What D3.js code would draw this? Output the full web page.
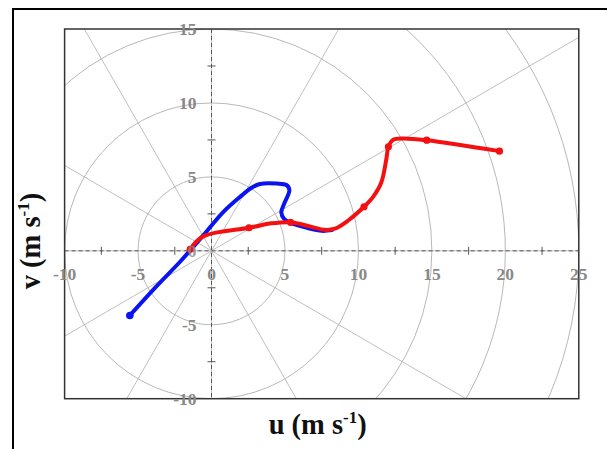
<!DOCTYPE html>
<html>
<head>
<meta charset="utf-8">
<script src="https://cdn.jsdelivr.net/npm/d3@7/dist/d3.min.js"></script>
<style>
  html, body { margin: 0; padding: 0; background: #fff; }
  svg { display: block; }
</style>
</head>
<body>
<svg id="chart" width="607" height="449"></svg>
<script>
// Hodograph: wind components u, v (m s^-1)
const uTicks = [-10, -5, 0, 5, 10, 15, 20, 25];
const vTicks = [-10, -5, 0, 5, 10, 15];
const minorStep = 2.5;
const ringRadii = [5, 10, 15, 20, 25];
const spokeAngles = [0, 30, 60, 90, 120, 150, 180, 210, 240, 270, 300, 330];

// red trace (u, v)
const redU = [-1.45, -1.1, -0.7, -0.3, 0.6, 2.55, 4.1, 5.38, 6.8, 7.7, 8.4, 9.3, 10.38, 11.0, 11.55, 11.9, 12.04, 12.35, 13.0, 14.65, 19.6];
const redV = [0.1, 0.55, 0.9, 1.08, 1.28, 1.56, 1.86, 1.93, 1.62, 1.42, 1.5, 2.05, 2.98, 3.65, 4.6, 6.2, 7.03, 7.5, 7.6, 7.48, 6.74];
const redMarkU = [-1.45, 2.55, 5.38, 10.38, 12.04, 14.65, 19.6];
const redMarkV = [0.1, 1.56, 1.93, 2.98, 7.03, 7.48, 6.74];

// blue trace (u, v)
const blueU = [-5.56, -3.8, -2.14, -1.3, -0.55, 0.81, 2.0, 2.7, 3.3, 4.44, 5.1, 5.3, 4.95, 4.75, 4.95, 5.4, 6.5, 7.5, 8.2];
const blueV = [-4.37, -2.45, -0.74, 0.2, 1.06, 2.64, 3.7, 4.25, 4.52, 4.55, 4.45, 4.1, 3.2, 2.6, 2.15, 1.88, 1.55, 1.35, 1.4];
const blueMarkU = [-5.56];
const blueMarkV = [-4.37];

const svg = d3.select("#chart");

const x = d3.scaleLinear().domain([-10, 25]).range([64.6, 578.8]);
const y = d3.scaleLinear().domain([-10, 15]).range([398.7, 29]);

const [x0, x1] = x.range();
const [y0, y1] = y.range();

// outer frame
svg.append("rect")
  .attr("x", 13).attr("y", 9)
  .attr("width", 620).attr("height", 460)
  .attr("fill", "none").attr("stroke", "#000").attr("stroke-width", 2);

svg.append("clipPath").attr("id", "plotClip")
  .append("rect")
  .attr("x", x0).attr("y", y1)
  .attr("width", x1 - x0).attr("height", y0 - y1);

const grid = svg.append("g").attr("clip-path", "url(#plotClip)");

// rings of constant speed
grid.selectAll("ellipse.ring").data(ringRadii).join("ellipse")
  .attr("class", "ring")
  .attr("cx", x(0)).attr("cy", y(0))
  .attr("rx", r => x(r) - x(0))
  .attr("ry", r => y(0) - y(r))
  .attr("fill", "none").attr("stroke", "#b0b0b0").attr("stroke-width", 0.9);

// spokes every 30 degrees
const spokeLen = 40;
grid.selectAll("line.spoke").data(spokeAngles).join("line")
  .attr("class", "spoke")
  .attr("x1", x(0)).attr("y1", y(0))
  .attr("x2", a => x(spokeLen * Math.cos(a * Math.PI / 180)))
  .attr("y2", a => y(spokeLen * Math.sin(a * Math.PI / 180)))
  .attr("stroke", "#b8b8b8").attr("stroke-width", 0.9);

// dashed centre axes
grid.append("line")
  .attr("x1", x0).attr("x2", x1).attr("y1", y(0)).attr("y2", y(0))
  .attr("stroke", "#555").attr("stroke-width", 1).attr("stroke-dasharray", "4,3");
grid.append("line")
  .attr("x1", x(0)).attr("x2", x(0)).attr("y1", y1).attr("y2", y0)
  .attr("stroke", "#555").attr("stroke-width", 1).attr("stroke-dasharray", "4,3");

// minor ticks on the centre axes
const uMinor = d3.range(-10 + minorStep, 25, minorStep * 2);
const vMinor = d3.range(-10 + minorStep, 15, minorStep * 2);
grid.selectAll("line.utick").data(uMinor).join("line")
  .attr("class", "utick")
  .attr("x1", d => x(d)).attr("x2", d => x(d))
  .attr("y1", y(0) - 4).attr("y2", y(0) + 4)
  .attr("stroke", "#555").attr("stroke-width", 1);
grid.selectAll("line.vtick").data(vMinor).join("line")
  .attr("class", "vtick")
  .attr("y1", d => y(d)).attr("y2", d => y(d))
  .attr("x1", x(0) - 4).attr("x2", x(0) + 4)
  .attr("stroke", "#555").attr("stroke-width", 1);

// plot border
svg.append("rect")
  .attr("x", x0).attr("y", y1)
  .attr("width", x1 - x0).attr("height", y0 - y1)
  .attr("fill", "none").attr("stroke", "#333").attr("stroke-width", 1.5);

// traces
const line = d3.line()
  .x(d => x(d[0])).y(d => y(d[1]))
  .curve(d3.curveCatmullRom.alpha(0.5));

const blue = blueU.map((u, i) => [u, blueV[i]]);
const red = redU.map((u, i) => [u, redV[i]]);

svg.append("path").datum(blue)
  .attr("d", line)
  .attr("fill", "none").attr("stroke", "#0a14f0")
  .attr("stroke-width", 4).attr("stroke-linejoin", "round").attr("stroke-linecap", "round");
svg.selectAll("circle.bmark").data(blueMarkU.map((u, i) => [u, blueMarkV[i]])).join("circle")
  .attr("class", "bmark")
  .attr("cx", d => x(d[0])).attr("cy", d => y(d[1])).attr("r", 3.8)
  .attr("fill", "#0a14f0");

svg.append("path").datum(red)
  .attr("d", line)
  .attr("fill", "none").attr("stroke", "#f21010")
  .attr("stroke-width", 4).attr("stroke-linejoin", "round").attr("stroke-linecap", "round");
svg.selectAll("circle.rmark").data(redMarkU.map((u, i) => [u, redMarkV[i]])).join("circle")
  .attr("class", "rmark")
  .attr("cx", d => x(d[0])).attr("cy", d => y(d[1])).attr("r", 3.6)
  .attr("fill", "#f21010");

// tick labels
const tickFont = "'Liberation Serif', 'Times New Roman', serif";
svg.selectAll("text.ulab").data(uTicks).join("text")
  .attr("class", "ulab")
  .attr("x", d => x(d)).attr("y", y(0) + 23)
  .attr("text-anchor", "middle").attr("dominant-baseline", "central")
  .attr("font-family", tickFont).attr("font-weight", "bold").attr("font-size", 17.5)
  .attr("fill", "#888")
  .text(d => d);
svg.selectAll("text.vlab").data(vTicks.filter(d => d !== 0)).join("text")
  .attr("class", "vlab")
  .attr("x", x(0) - 15).attr("y", d => y(d))
  .attr("text-anchor", "end").attr("dominant-baseline", "central")
  .attr("font-family", tickFont).attr("font-weight", "bold").attr("font-size", 17.5)
  .attr("fill", "#888")
  .text(d => d);
// zero on the v axis sits just left of the origin, under the traces' start
svg.append("text")
  .attr("x", x(0) - 15).attr("y", y(0))
  .attr("text-anchor", "end").attr("dominant-baseline", "central")
  .attr("font-family", tickFont).attr("font-weight", "bold").attr("font-size", 17.5)
  .attr("fill", "#888").attr("opacity", 0.8)
  .text(vTicks[2]);

// axis titles
const titleFont = "'Liberation Serif', 'Times New Roman', serif";
const ut = svg.append("text")
  .attr("x", (x0 + x1) / 2 - 4).attr("y", 434)
  .attr("text-anchor", "middle")
  .attr("font-family", titleFont).attr("font-weight", "bold").attr("font-size", 28.5)
  .attr("fill", "#111");
ut.append("tspan").text("u (m s");
ut.append("tspan").attr("font-size", 17).attr("dy", -11).text("-1");
ut.append("tspan").attr("dy", 11).text(")");

const vt = svg.append("text")
  .attr("transform", `translate(40, 241) rotate(-90)`)
  .attr("text-anchor", "middle")
  .attr("font-family", titleFont).attr("font-weight", "bold").attr("font-size", 28.5)
  .attr("fill", "#111");
vt.append("tspan").text("v (m s");
vt.append("tspan").attr("font-size", 17).attr("dy", -11).text("-1");
vt.append("tspan").attr("dy", 11).text(")");
</script>
</body>
</html>
